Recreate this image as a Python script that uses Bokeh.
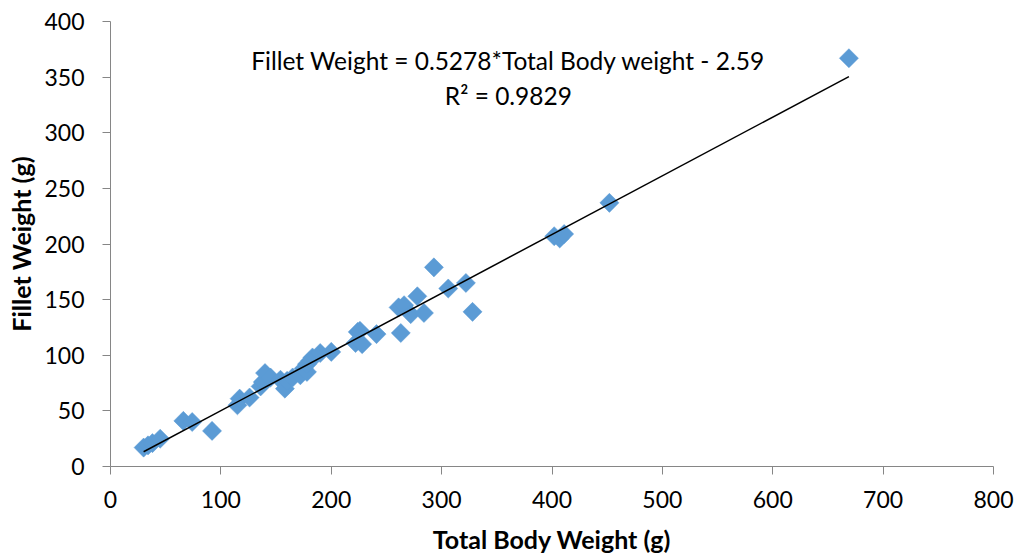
import numpy as np
from bokeh.plotting import figure
from bokeh.models import ColumnDataSource, Range1d, SingleIntervalTicker, Label
from bokeh.embed import file_html
from bokeh.resources import INLINE

total_body_weight = [30, 34, 38, 45, 66, 74, 92, 115, 117, 126, 136, 138, 140, 145,
                     154, 158, 160, 165, 172, 175, 178, 178, 181, 183, 190, 200,
                     222, 224, 226, 228, 241, 261, 263, 266, 272, 278, 284, 293,
                     306, 322, 328, 402, 407, 411, 452, 669]
fillet_weight = [17, 19, 21, 25, 41, 40, 32, 55, 61, 62, 72, 76, 84, 80,
                 78, 70, 77, 80, 82, 88, 85, 92, 95, 98, 102, 103,
                 111, 121, 122, 110, 119, 143, 120, 145, 137, 153, 138, 179,
                 160, 165, 139, 207, 205, 209, 237, 367]
slope = 0.5278
intercept = -2.59
equation_text = "Fillet Weight = 0.5278*Total Body weight - 2.59"
r2_text = "R\u00b2 = 0.9829"

FONT = "Lato"
TXT = "#000000"
AX = "#868686"

p = figure(width=1014, height=559, output_backend="svg", toolbar_location=None,
           x_range=Range1d(0, 800), y_range=Range1d(0, 400),
           min_border_left=110, min_border_right=21, min_border_top=21, min_border_bottom=93)
p.outline_line_color = None
p.xgrid.grid_line_color = None
p.ygrid.grid_line_color = None
p.background_fill_color = "white"

src = ColumnDataSource(dict(x=total_body_weight, y=fillet_weight))
p.scatter("x", "y", source=src, marker="square", size=13.5, angle=np.pi / 4,
          fill_color="#5B9BD5", line_color="#5B9BD5", line_width=0.5)

xs = np.array([min(total_body_weight), max(total_body_weight)], dtype=float)
p.line(xs, slope * xs + intercept, line_color="black", line_width=1.5)

p.add_layout(Label(x=360.5, y=365, text=equation_text, text_align="center", text_baseline="middle",
                   text_font=FONT, text_font_size="24.5px", text_color=TXT))
p.add_layout(Label(x=360.5, y=333.5, text=r2_text, text_align="center", text_baseline="middle",
                   text_font=FONT, text_font_size="24.5px", text_color=TXT))

p.xaxis.ticker = SingleIntervalTicker(interval=100)
p.yaxis.ticker = SingleIntervalTicker(interval=50)
for ax in (p.xaxis[0], p.yaxis[0]):
    ax.axis_line_color = AX
    ax.major_tick_line_color = AX
    ax.major_tick_out = 8
    ax.major_tick_in = 0
    ax.minor_tick_line_color = None
    ax.major_label_text_font = FONT
    ax.major_label_text_font_size = "23px"
    ax.major_label_text_color = TXT
    ax.axis_label_text_font = FONT
    ax.axis_label_text_font_size = "25px"
    ax.axis_label_text_font_style = "bold"
    ax.axis_label_text_color = TXT

p.xaxis.axis_label = "Total Body Weight (g)"
p.yaxis.axis_label = "Fillet Weight (g)"
p.xaxis.major_label_standoff = 16
p.yaxis.major_label_standoff = 18
p.xaxis.axis_label_standoff = 13
p.yaxis.axis_label_standoff = 5

open("out.html", "w").write(file_html(p, INLINE))
